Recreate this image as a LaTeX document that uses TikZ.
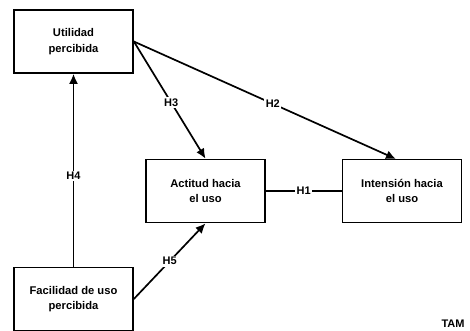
\documentclass[tikz,border=0pt]{standalone}
\usepackage{fontspec}
\setmainfont{Liberation Sans}
\usetikzlibrary{arrows.meta}
\begin{document}
\begin{tikzpicture}[x=1pt,y=-1pt,
  box/.style={draw,line width=1.7pt,minimum width=119pt,minimum height=63pt,inner sep=0pt,align=center,font=\fontsize{11.2}{15.5}\selectfont\bfseries},
  conn/.style={line width=1.7pt},
  arr/.style={conn,-{Latex[length=10pt,width=9pt]}},
  lab/.style={fill=white,inner sep=1.5pt,font=\fontsize{11}{12}\selectfont\bfseries}]
\useasboundingbox (0,0) rectangle (470,331);
\node[box] (u) at (73.5,41.5) {Utilidad\\percibida};
\node[box] (a) at (205.5,191) {Actitud hacia\\el uso};
\node[box] (i) at (402,191) {Intensión hacia\\el uso};
\node[box] (f) at (73.5,299) {Facilidad de uso\\percibida};
\coordinate (ih) at (396,159);
\draw[arr] (f.north) -- node[lab,pos=0.47] {H4} (u.south);
\draw[arr] (u.east) -- node[lab,pos=0.52] {H3} (a.north);
\draw[arr] (u.east) -- node[lab,pos=0.53] {H2} (ih);
\draw[arr] (f.east) -- node[lab,pos=0.5] {H5} (a.south);
\draw[conn] (a.east) -- node[lab] {H1} (i.west);
\node[font=\fontsize{11}{12}\selectfont\bfseries] (tam) at (453,324) {TAM};
\end{tikzpicture}
\end{document}
